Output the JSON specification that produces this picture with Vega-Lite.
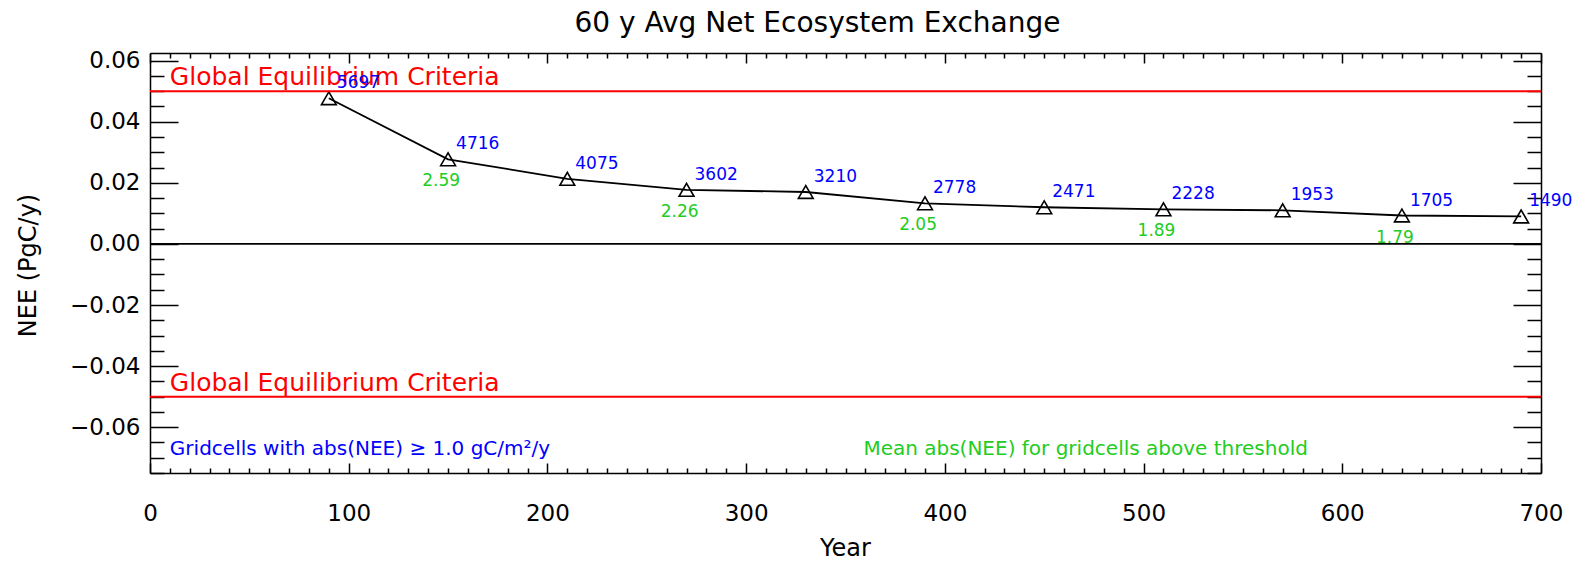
{
  "$schema": "https://vega.github.io/schema/vega-lite/v6.json",
  "autosize": "none",
  "width": 1391,
  "height": 420,
  "padding": {"left": 150, "top": 53, "right": 47, "bottom": 88},
  "background": "white",
  "title": {"text": "60 y Avg Net Ecosystem Exchange", "font": "DejaVu Sans", "fontSize": 28, "fontWeight": "normal", "color": "black", "anchor": "middle", "offset": 12, "dx": -28},
  "config": {"view": {"stroke": null}, "font": "DejaVu Sans"},
  "datasets": {
    "series": [
      {"year": 90, "nee": 0.0477, "count": "5697", "mean": null},
      {"year": 150, "nee": 0.0277, "count": "4716", "mean": "2.59"},
      {"year": 210, "nee": 0.0213, "count": "4075", "mean": null},
      {"year": 270, "nee": 0.0177, "count": "3602", "mean": "2.26"},
      {"year": 330, "nee": 0.0170, "count": "3210", "mean": null},
      {"year": 390, "nee": 0.0133, "count": "2778", "mean": "2.05"},
      {"year": 450, "nee": 0.0120, "count": "2471", "mean": null},
      {"year": 510, "nee": 0.0113, "count": "2228", "mean": "1.89"},
      {"year": 570, "nee": 0.0110, "count": "1953", "mean": null},
      {"year": 630, "nee": 0.0093, "count": "1705", "mean": "1.79"},
      {"year": 690, "nee": 0.0090, "count": "1490", "mean": null}
    ],
    "criteria": [
      {"level": 0.05, "label": "Global Equilibrium Criteria", "lx": 10},
      {"level": -0.05, "label": "Global Equilibrium Criteria", "lx": 10}
    ],
    "zero": [{"level": 0}],
    "notes": [
      {"x": 10, "y": -0.067, "text": "Gridcells with abs(NEE) ≥ 1.0 gC/m²/y", "kind": "count"},
      {"x": 359, "y": -0.067, "text": "Mean abs(NEE) for gridcells above threshold", "kind": "mean"}
    ]
  },
  "resolve": {"axis": {"x": "independent", "y": "independent"}},
  "layer": [
    {
      "data": {"name": "series"},
      "mark": {"type": "line", "color": "black", "strokeWidth": 1.8},
      "encoding": {
        "x": {"field": "year", "type": "quantitative",
          "scale": {"domain": [0, 700], "nice": false, "zero": false},
          "axis": {"orient": "bottom", "title": "Year", "titleFont": "DejaVu Sans", "titleFontSize": 24, "titleFontWeight": "normal", "titleColor": "black", "titleX": 695, "titleY": 75, "titleBaseline": "middle", "titleAlign": "center",
            "values": [0,10,20,30,40,50,60,70,80,90,100,110,120,130,140,150,160,170,180,190,200,210,220,230,240,250,260,270,280,290,300,310,320,330,340,350,360,370,380,390,400,410,420,430,440,450,460,470,480,490,500,510,520,530,540,550,560,570,580,590,600,610,620,630,640,650,660,670,680,690,700],
            "tickSize": {"condition": {"test": "datum.value % 100 === 0", "value": -10}, "value": -5},
            "labelExpr": "datum.value % 100 === 0 ? datum.label : ''",
            "labelOverlap": false, "labelFlush": false, "format": "d",
            "labelFont": "DejaVu Sans", "labelFontSize": 23, "labelColor": "black", "labelPadding": 39,
            "grid": false, "domainColor": "black", "domainWidth": 1.5, "tickColor": "black", "tickWidth": 1.5}},
        "y": {"field": "nee", "type": "quantitative",
          "scale": {"domain": [-0.075, 0.0625], "nice": false, "zero": false},
          "axis": {"orient": "left", "title": "NEE (PgC/y)", "titleFont": "DejaVu Sans", "titleFontSize": 24, "titleFontWeight": "normal", "titleColor": "black", "titleX": -122, "titleY": 212, "titleAngle": -90, "titleBaseline": "middle", "titleAlign": "center",
            "values": [-0.075,-0.07,-0.065,-0.06,-0.055,-0.05,-0.045,-0.04,-0.035,-0.03,-0.025,-0.02,-0.015,-0.01,-0.005,0,0.005,0.01,0.015,0.02,0.025,0.03,0.035,0.04,0.045,0.05,0.055,0.06],
            "tickSize": {"condition": {"test": "abs(datum.value*50 - round(datum.value*50)) < 0.000001", "value": -28}, "value": -14},
            "labelExpr": "abs(datum.value*50 - round(datum.value*50)) < 0.000001 ? datum.label : ''",
            "labelOverlap": false, "labelFlush": false, "format": ".2f",
            "labelFont": "DejaVu Sans", "labelFontSize": 23, "labelColor": "black", "labelPadding": 38,
            "grid": false, "domainColor": "black", "domainWidth": 1.5, "tickColor": "black", "tickWidth": 1.5}}
      }
    },
    {
      "data": {"name": "series"},
      "mark": {"type": "point", "shape": "triangle-up", "filled": false, "stroke": "black", "strokeWidth": 1.6, "size": 220, "opacity": 1},
      "encoding": {
        "x": {"field": "year", "type": "quantitative",
          "axis": {"orient": "top", "title": null, "labels": false,
            "values": [0,10,20,30,40,50,60,70,80,90,100,110,120,130,140,150,160,170,180,190,200,210,220,230,240,250,260,270,280,290,300,310,320,330,340,350,360,370,380,390,400,410,420,430,440,450,460,470,480,490,500,510,520,530,540,550,560,570,580,590,600,610,620,630,640,650,660,670,680,690,700],
            "tickSize": {"condition": {"test": "datum.value % 100 === 0", "value": -10}, "value": -5},
            "grid": false, "domainColor": "black", "domainWidth": 1.5, "tickColor": "black", "tickWidth": 1.5}},
        "y": {"field": "nee", "type": "quantitative",
          "axis": {"orient": "right", "title": null, "labels": false,
            "values": [-0.075,-0.07,-0.065,-0.06,-0.055,-0.05,-0.045,-0.04,-0.035,-0.03,-0.025,-0.02,-0.015,-0.01,-0.005,0,0.005,0.01,0.015,0.02,0.025,0.03,0.035,0.04,0.045,0.05,0.055,0.06],
            "tickSize": {"condition": {"test": "abs(datum.value*50 - round(datum.value*50)) < 0.000001", "value": -28}, "value": -14},
            "grid": false, "domainColor": "black", "domainWidth": 1.5, "tickColor": "black", "tickWidth": 1.5}}
      }
    },
    {
      "data": {"name": "criteria"},
      "mark": {"type": "rule", "color": "#ff0000", "strokeWidth": 2},
      "encoding": {"y": {"field": "level", "type": "quantitative", "axis": null}}
    },
    {
      "data": {"name": "zero"},
      "mark": {"type": "rule", "color": "black", "strokeWidth": 1.8},
      "encoding": {"y": {"field": "level", "type": "quantitative", "axis": null}}
    },
    {
      "data": {"name": "criteria"},
      "mark": {"type": "text", "color": "#ff0000", "font": "DejaVu Sans", "fontSize": 25, "align": "left", "baseline": "alphabetic", "dy": -6},
      "encoding": {
        "x": {"field": "lx", "type": "quantitative", "axis": null},
        "y": {"field": "level", "type": "quantitative", "axis": null},
        "text": {"field": "label"}
      }
    },
    {
      "data": {"name": "series"},
      "mark": {"type": "text", "color": "#0000ff", "font": "DejaVu Sans", "fontSize": 17, "align": "left", "baseline": "middle", "dx": 8, "dy": -15},
      "encoding": {
        "x": {"field": "year", "type": "quantitative", "axis": null},
        "y": {"field": "nee", "type": "quantitative", "axis": null},
        "text": {"field": "count"}
      }
    },
    {
      "data": {"name": "series"},
      "transform": [{"filter": "isValid(datum.mean)"}],
      "mark": {"type": "text", "color": "#22cc22", "font": "DejaVu Sans", "fontSize": 17, "align": "right", "baseline": "middle", "dx": 12, "dy": 22},
      "encoding": {
        "x": {"field": "year", "type": "quantitative", "axis": null},
        "y": {"field": "nee", "type": "quantitative", "axis": null},
        "text": {"field": "mean"}
      }
    },
    {
      "data": {"name": "notes"},
      "mark": {"type": "text", "font": "DejaVu Sans", "fontSize": 20, "align": "left", "baseline": "middle"},
      "encoding": {
        "x": {"field": "x", "type": "quantitative", "axis": null},
        "y": {"field": "y", "type": "quantitative", "axis": null},
        "text": {"field": "text"},
        "color": {"field": "kind", "type": "nominal", "scale": {"domain": ["count", "mean"], "range": ["#0000ff", "#22cc22"]}, "legend": null}
      }
    }
  ]
}
